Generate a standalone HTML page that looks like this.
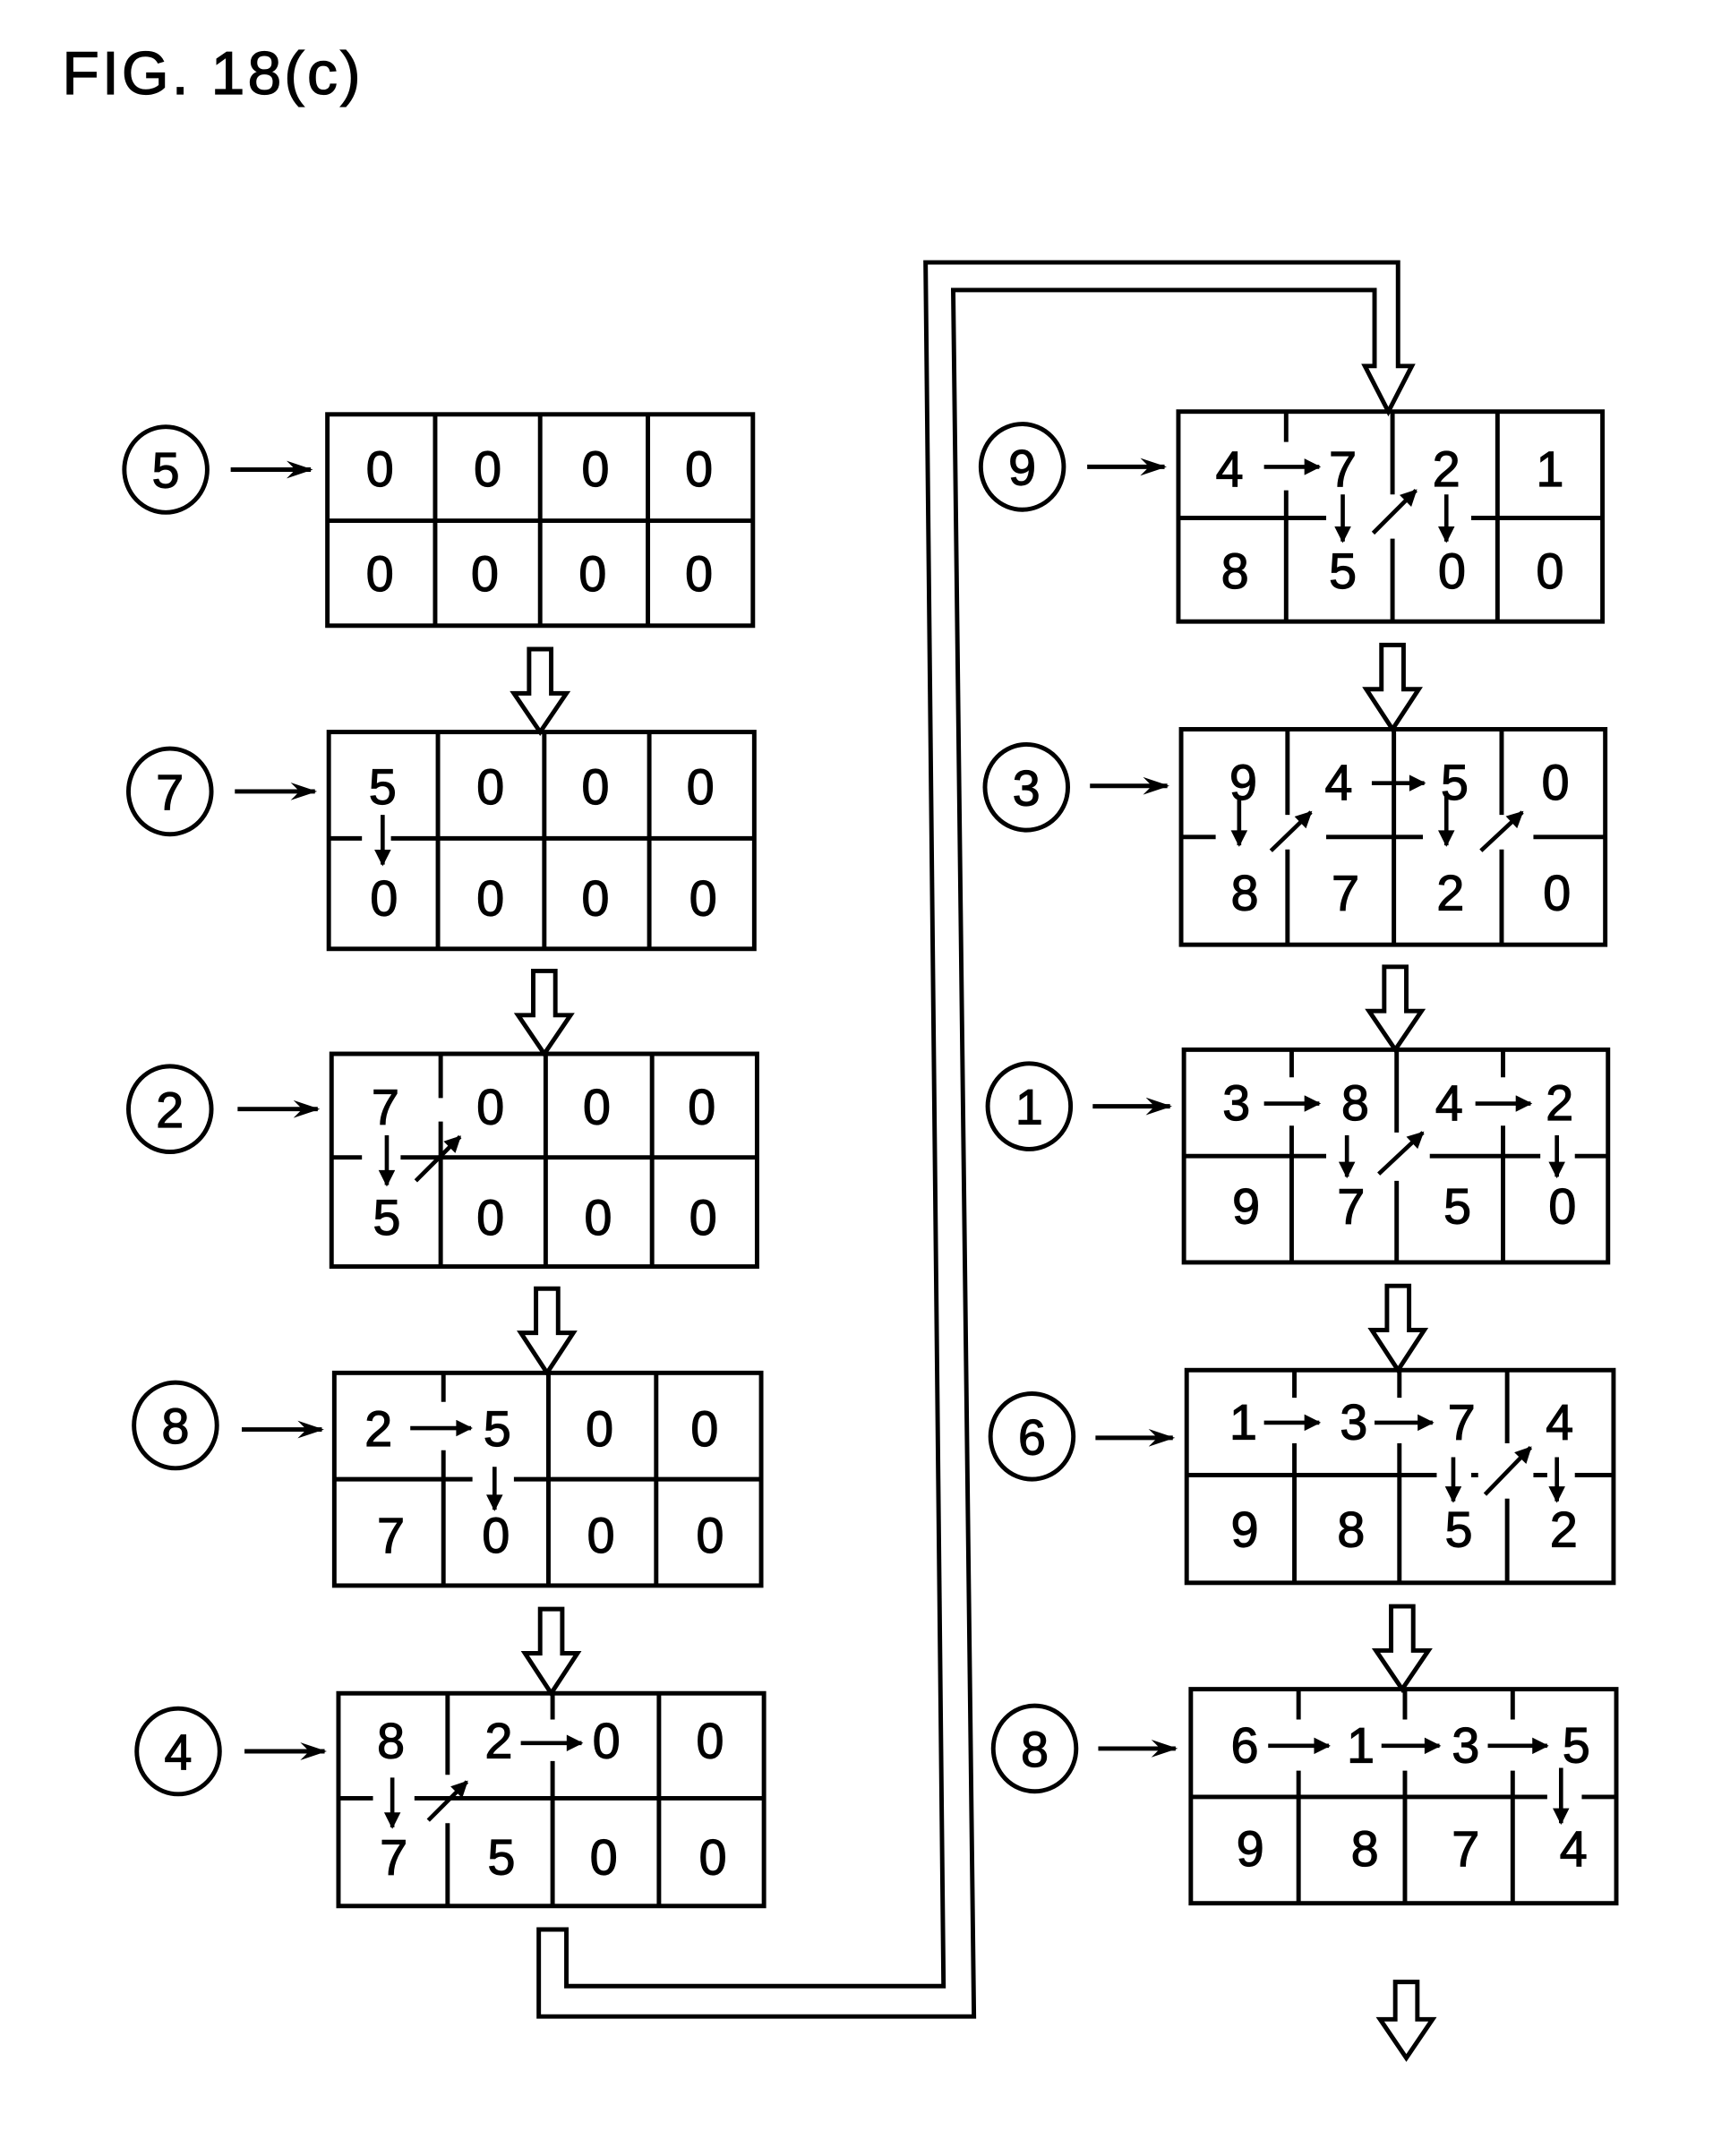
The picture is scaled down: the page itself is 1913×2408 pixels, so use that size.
<!DOCTYPE html>
<html><head><meta charset="utf-8"><style>
html,body{margin:0;padding:0;background:#fff}
svg{display:block}
text{font-family:"Liberation Sans",sans-serif;font-size:36px;fill:#000;text-anchor:middle;stroke:#000;stroke-width:0.8}
</style></head><body>
<svg width="1913" height="2408" viewBox="0 0 1240 1561" preserveAspectRatio="none" xmlns="http://www.w3.org/2000/svg">
<defs>
<marker id="a" viewBox="0 0 12 8" refX="11" refY="4" markerWidth="6" markerHeight="4" orient="auto" markerUnits="strokeWidth">
<path d="M0,0 L12,4 L0,8 L4,4 z" fill="#000"/></marker>
<marker id="b" viewBox="0 0 10 10" refX="9" refY="5" markerWidth="4.5" markerHeight="4" orient="auto" markerUnits="strokeWidth">
<path d="M0,0 L10,5 L0,10 z" fill="#000"/></marker>
</defs>
<rect width="1240" height="1561" fill="#fff"/>
<text x="45" y="68" style="font-size:44px;text-anchor:start;letter-spacing:2px">FIG. 18(c)</text>

<g fill="none" stroke="#000" stroke-width="3.2">
<rect x="237" y="300" width="308" height="153"/><path d="M237 377H545M315 300V453M391 300V453M469 300V453"/>
<rect x="238" y="530" width="308" height="157"/><path d="M238 607H262M283 607H546M317 530V687M394 530V687M470 530V687"/>
<rect x="240" y="763" width="308" height="154"/><path d="M240 838H262M290 838H548M319 763V795M319 812V917M395 763V917M472 763V917"/>
<rect x="242" y="994" width="309" height="154"/><path d="M242 1071H342M372 1071H551M321 994V1015M321 1050V1148M397 994V1148M475 994V1148"/>
<rect x="245" y="1226" width="308" height="154"/><path d="M245 1302H270M300 1302H553M324 1226V1285M324 1320V1380M400 1226V1245M400 1275V1380M477 1226V1380"/>
<rect x="853" y="298" width="307" height="152"/><path d="M853 375H960M1065 375H1160M931 298V320M931 355V450M1008 298V358M1008 390V450M1084 298V450"/>
<rect x="855" y="528" width="307" height="156"/><path d="M855 606H880M960 606H1030M1110 606H1162M932 528V590M932 615V684M1009 528V684M1087 528V590M1087 615V684"/>
<rect x="857" y="760" width="307" height="154"/><path d="M857 837H960M1035 837H1115M1140 837H1164M935 760V780M935 815V914M1011 760V820M1011 855V914M1088 760V780M1088 815V914"/>
<rect x="859" y="992" width="309" height="154"/><path d="M859 1068H1040M1065 1068H1070M1110 1068H1120M1140 1068H1168M937 992V1012M937 1045V1146M1013 992V1012M1013 1045V1146M1091 992V1045M1091 1085V1146"/>
<rect x="862" y="1223" width="308" height="155"/><path d="M862 1301H1120M1145 1301H1170M940 1223V1245M940 1282V1378M1017 1223V1245M1017 1282V1378M1095 1223V1245M1095 1282V1378"/>
<ellipse cx="120" cy="340" rx="30" ry="31"/>
<ellipse cx="123" cy="573" rx="30" ry="31"/>
<ellipse cx="123" cy="803" rx="30" ry="31"/>
<ellipse cx="127" cy="1032" rx="30" ry="31"/>
<ellipse cx="129" cy="1268" rx="30" ry="31"/>
<ellipse cx="740" cy="338" rx="30" ry="31"/>
<ellipse cx="743" cy="570" rx="30" ry="31"/>
<ellipse cx="745" cy="801" rx="30" ry="31"/>
<ellipse cx="747" cy="1040" rx="30" ry="31"/>
<ellipse cx="749" cy="1266" rx="30" ry="31"/>
<path d="M383 470H399V502H410L391 530L372 502H383Z"/>
<path d="M386 703H402V735H413L394 763L375 735H386Z"/>
<path d="M388 933H404V965H415L396 994L377 965H388Z"/>
<path d="M391 1165H407V1197H418L399 1226L380 1197H391Z"/>
<path d="M1000 467H1016V499H1027L1008 528L989 499H1000Z"/>
<path d="M1002 700H1018V732H1029L1010 760L991 732H1002Z"/>
<path d="M1004 931H1020V963H1031L1012 992L993 963H1004Z"/>
<path d="M1007 1163H1023V1195H1034L1015 1223L996 1195H1007Z"/>
<path d="M1010 1435H1026V1462H1037L1018 1490L999 1462H1010Z"/>
<path d="M390 1397V1460H705L690 210H995V265H988L1005 298L1022 265H1012V190H670L683 1438H410V1397Z"/>
</g>

<g stroke="#000" stroke-width="3.2" fill="none" marker-end="url(#a)">
<path d="M167 340H225"/><path d="M170 573H228"/><path d="M172 803H230"/><path d="M175 1035H233"/><path d="M177 1268H235"/>
<path d="M787 338H843"/><path d="M789 569H845"/><path d="M791 801H847"/><path d="M793 1041H849"/><path d="M795 1266H851"/>
</g>
<g stroke="#000" stroke-width="3" fill="none" marker-end="url(#b)">
<path d="M277 590V626"/>
<path d="M280 822V858"/><path d="M301 855L333 823"/>
<path d="M297 1034H341"/><path d="M358 1062V1093"/>
<path d="M284 1287V1323"/><path d="M310 1318L338 1290"/><path d="M377 1262H421"/>
<path d="M915 338H955"/><path d="M972 358V392"/><path d="M994 386L1025 355"/><path d="M1047 358V392"/>
<path d="M897 576V612"/><path d="M920 616L949 588"/><path d="M993 567H1031"/><path d="M1047 576V612"/><path d="M1072 616L1102 588"/>
<path d="M915 799H955"/><path d="M975 822V852"/><path d="M998 850L1030 820"/><path d="M1068 799H1108"/><path d="M1127 822V852"/>
<path d="M915 1030H955"/><path d="M995 1030H1037"/><path d="M1052 1055V1087"/><path d="M1075 1082L1108 1048"/><path d="M1127 1055V1087"/>
<path d="M918 1264H962"/><path d="M1000 1264H1042"/><path d="M1077 1264H1120"/><path d="M1130 1280V1320"/>
</g>

<g>
<text x="120" y="353">5</text><text x="123" y="586">7</text><text x="123" y="816">2</text><text x="127" y="1045">8</text><text x="129" y="1281">4</text>
<text x="740" y="351">9</text><text x="743" y="583">3</text><text x="745" y="814">1</text><text x="747" y="1053">6</text><text x="749" y="1279">8</text>
<text x="275" y="352">0</text><text x="353" y="352">0</text><text x="431" y="352">0</text><text x="506" y="352">0</text>
<text x="275" y="428">0</text><text x="351" y="428">0</text><text x="429" y="428">0</text><text x="506" y="428">0</text>
<text x="277" y="582">5</text><text x="355" y="582">0</text><text x="431" y="582">0</text><text x="507" y="582">0</text>
<text x="278" y="663">0</text><text x="355" y="663">0</text><text x="431" y="663">0</text><text x="509" y="663">0</text>
<text x="279" y="814">7</text><text x="355" y="814">0</text><text x="432" y="814">0</text><text x="508" y="814">0</text>
<text x="280" y="894">5</text><text x="355" y="894">0</text><text x="433" y="894">0</text><text x="509" y="894">0</text>
<text x="274" y="1047">2</text><text x="360" y="1047">5</text><text x="434" y="1047">0</text><text x="510" y="1047">0</text>
<text x="283" y="1124">7</text><text x="359" y="1124">0</text><text x="435" y="1124">0</text><text x="514" y="1124">0</text>
<text x="283" y="1273">8</text><text x="361" y="1273">2</text><text x="439" y="1273">0</text><text x="514" y="1273">0</text>
<text x="285" y="1357">7</text><text x="363" y="1357">5</text><text x="437" y="1357">0</text><text x="516" y="1357">0</text>
<text x="890" y="352">4</text><text x="972" y="352">7</text><text x="1047" y="352">2</text><text x="1122" y="352">1</text>
<text x="894" y="426">8</text><text x="972" y="426">5</text><text x="1051" y="426">0</text><text x="1122" y="426">0</text>
<text x="900" y="579">9</text><text x="969" y="579">4</text><text x="1053" y="579">5</text><text x="1126" y="579">0</text>
<text x="901" y="659">8</text><text x="974" y="659">7</text><text x="1050" y="659">2</text><text x="1127" y="659">0</text>
<text x="895" y="811">3</text><text x="981" y="811">8</text><text x="1049" y="811">4</text><text x="1129" y="811">2</text>
<text x="902" y="886">9</text><text x="978" y="886">7</text><text x="1055" y="886">5</text><text x="1131" y="886">0</text>
<text x="900" y="1042">1</text><text x="980" y="1042">3</text><text x="1058" y="1042">7</text><text x="1129" y="1042">4</text>
<text x="901" y="1120">9</text><text x="978" y="1120">8</text><text x="1056" y="1120">5</text><text x="1132" y="1120">2</text>
<text x="901" y="1276">6</text><text x="985" y="1276">1</text><text x="1061" y="1276">3</text><text x="1141" y="1276">5</text>
<text x="905" y="1351">9</text><text x="988" y="1351">8</text><text x="1061" y="1351">7</text><text x="1139" y="1351">4</text>
</g>
</svg>
</body></html>
